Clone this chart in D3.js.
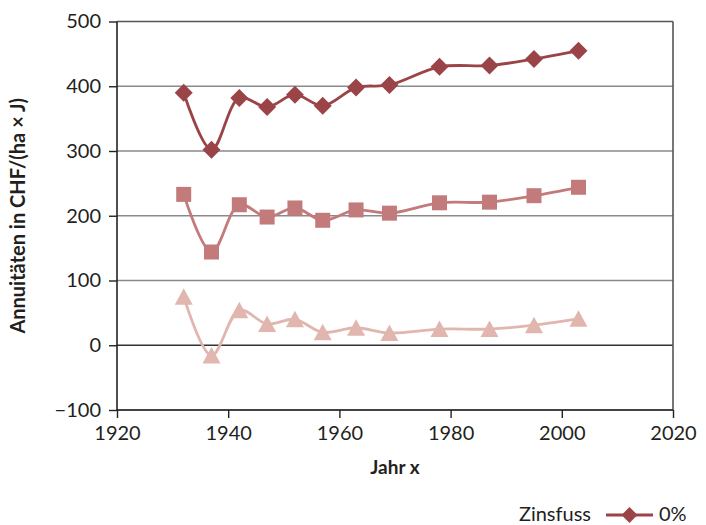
<!DOCTYPE html>
<html>
<head>
<meta charset="utf-8">
<script src="https://cdn.jsdelivr.net/npm/d3@7"></script>
<style>
  body { margin: 0; background: #fff; }
  svg { display: block; font-family: Lato, "Open Sans", sans-serif; }
</style>
</head>
<body>
<svg id="chart" width="706" height="525"></svg>
<script>
    // data
    var years = [1932, 1937, 1942, 1947, 1952, 1957, 1963, 1969, 1978, 1987, 1995, 2003];
    var zins0 = [390, 302, 382, 368, 387, 370, 398, 402, 430, 432, 442, 455];
    var zinsB = [233, 144, 217, 198, 212, 193, 209, 204, 220, 221, 231, 244];
    var zinsC = [75, -16, 54, 33, 40, 20, 27, 19, 25, 25, 31, 41];
    var xTicks = [1920, 1940, 1960, 1980, 2000, 2020];
    var yTicks = [-100, 0, 100, 200, 300, 400, 500];

    var svg = d3.select("#chart");
    // plot box (window.top is reserved, so no plain "top")
    var plotLeft = 117, plotRight = 673, plotTop = 21.5, plotBottom = 410;

    var x = d3.scaleLinear().domain([1920, 2020]).range([plotLeft, plotRight]);
    var y = d3.scaleLinear().domain([-100, 500]).range([plotBottom, plotTop]);

    // gridlines
    svg.append("g")
        .selectAll("line")
        .data(yTicks)
        .enter().append("line")
        .attr("x1", plotLeft).attr("x2", plotRight)
        .attr("y1", d => y(d)).attr("y2", d => y(d))
        .attr("stroke", d => d == 0 ? "#333" : (d == 500 ? "#555" : "#8a8a8a"))
        .attr("stroke-width", d => d == 0 || d == 500 ? 1.6 : 1.3);

    // right border
    svg.append("line")
        .attr("x1", plotRight).attr("x2", plotRight)
        .attr("y1", plotTop).attr("y2", plotBottom)
        .attr("stroke", "#555").attr("stroke-width", 1.6);

    // axes
    var yAxis = svg.append("g")
        .attr("transform", "translate(" + plotLeft + ",0)")
        .call(d3.axisLeft(y).tickValues(yTicks).tickSize(8).tickPadding(8)
            .tickFormat(d => d < 0 ? "\u2212" + Math.abs(d) : d));
    var xAxis = svg.append("g")
        .attr("transform", "translate(0," + plotBottom + ")")
        .call(d3.axisBottom(x).tickValues(xTicks).tickSize(8).tickPadding(8)
            .tickFormat(d3.format("d")));

    [yAxis, xAxis].forEach(function(a) {
        a.select(".domain").attr("stroke", "#222").attr("stroke-width", 1.6);
        a.selectAll(".tick line").attr("stroke", "#222").attr("stroke-width", 1.4);
        a.selectAll("text").attr("font-size", 20).attr("fill", "#231f20")
            .attr("font-family", "Lato, sans-serif");
    });
    // drop the outer tick stubs d3 puts on the domain path
    yAxis.select(".domain").attr("d", "M0," + plotBottom + "V" + plotTop);
    xAxis.select(".domain").attr("d", "M" + plotLeft + ",0H" + plotRight);

    // axis titles
    svg.append("text")
        .attr("transform", "translate(25," + (plotTop + plotBottom) / 2 + ") rotate(-90)")
        .attr("text-anchor", "middle")
        .attr("font-size", 20).attr("font-weight", "bold").attr("fill", "#231f20")
        .text("Annuitäten in CHF/(ha × J)");

    svg.append("text")
        .attr("x", (plotLeft + plotRight) / 2).attr("y", 474)
        .attr("text-anchor", "middle")
        .attr("font-size", 19).attr("font-weight", "bold").attr("fill", "#231f20")
        .text("Jahr x");

    // series
    var series = [
        {vals: zinsC, color: "#e0b6ae", shape: "triangle"},
        {vals: zinsB, color: "#c27a7a", shape: "square"},
        {vals: zins0, color: "#9b4447", shape: "diamond"}
    ];

    var line = d3.line()
        .x(d => x(d[0]))
        .y(d => y(d[1]))
        .curve(d3.curveCatmullRom);

    function markerPath(shape) {
        if (shape == "diamond") return "M0,-9L9,0L0,9L-9,0Z";
        if (shape == "square") return "M-7.5,-7.5H7.5V7.5H-7.5Z";
        return "M0,-8.5L9,8L-9,8Z";
    }

    series.forEach(function(s) {
        var pts = years.map((yr, i) => [yr, s.vals[i]]);
        svg.append("path")
            .datum(pts)
            .attr("d", line)
            .attr("fill", "none")
            .attr("stroke", s.color)
            .attr("stroke-width", 2.8);
        svg.append("g")
            .selectAll("path")
            .data(pts)
            .enter().append("path")
            .attr("transform", d => "translate(" + x(d[0]) + "," + y(d[1]) + ")")
            .attr("d", markerPath(s.shape))
            .attr("fill", s.color);
    });

    // legend
    var leg = svg.append("g");
    leg.append("text")
        .attr("x", 591).attr("y", 521)
        .attr("text-anchor", "end")
        .attr("font-size", 20).attr("fill", "#231f20")
        .text("Zinsfuss");
    leg.append("line")
        .attr("x1", 606).attr("x2", 653)
        .attr("y1", 515).attr("y2", 515)
        .attr("stroke", "#9b4447").attr("stroke-width", 2.8);
    leg.append("path")
        .attr("transform", "translate(629.5,515)")
        .attr("d", "M0,-8L8,0L0,8L-8,0Z")
        .attr("fill", "#9b4447");
    leg.append("text")
        .attr("x", 659).attr("y", 521)
        .attr("font-size", 20).attr("fill", "#231f20")
        .text("0%");
</script>
</body>
</html>
